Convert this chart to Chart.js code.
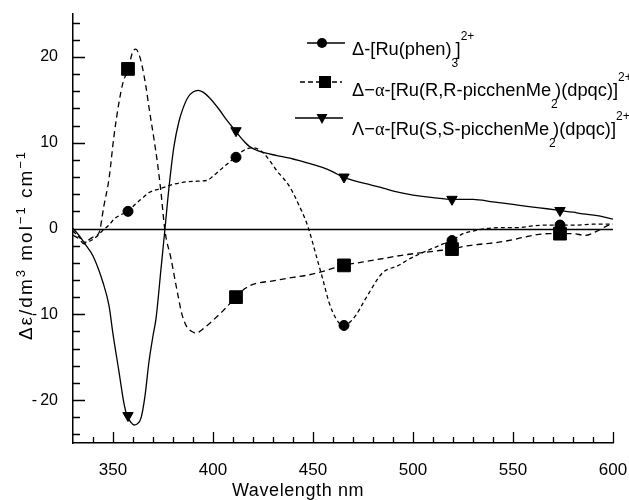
<!DOCTYPE html>
<html>
<head>
<meta charset="utf-8">
<script src="https://cdn.jsdelivr.net/npm/chart.js@4.4.1/dist/chart.umd.min.js"></script>
<style>
  html, body { margin: 0; padding: 0; background: #fff; }
</style>
</head>
<body>
<canvas id="cdChart" width="629" height="500"></canvas>
<script>
// axis ticks
var xTicks = [350, 400, 450, 500, 550, 600];
var yTicks = [-20, -10, 0, 10, 20];

// Δ-[Ru(phen)3]2+  (circles)
var phenNm = [330, 333, 336, 339, 342, 345, 348, 350.5, 354, 357.5, 361, 365, 368, 373, 378, 383, 390, 397, 400, 403, 407, 411,
  414, 417, 420, 423, 426, 429, 432, 435, 438, 441, 443, 445, 447.5, 450, 452, 455, 458, 461.5, 465, 468, 471.5, 475, 478.3,
  482, 485, 488, 492, 497, 503, 510, 515, 519.5, 525, 530, 537, 545, 552, 560, 567, 574, 582, 590, 600];
var phenDe = [-0.3, -1.0, -1.6, -1.4, -0.9, -0.2, 0.4, 1.1, 1.6, 2.0, 2.8, 3.6, 4.2, 4.6, 5.0, 5.3, 5.5, 5.6, 6.1, 6.7, 7.5, 8.3,
  8.9, 9.3, 9.4, 9.2, 8.6, 7.7, 6.7, 5.9, 5.0, 3.7, 2.7, 1.7, 0.2, -1.8, -3.5, -6.0, -8.6, -10.5, -11.3, -11.0, -10.1, -8.7, -7.4,
  -6.0, -5.1, -4.7, -4.4, -3.7, -3.0, -2.3, -1.8, -1.4, -0.6, -0.3, 0.0, 0.1, 0.1, 0.3, 0.4, 0.4, 0.4, 0.5, 0.5];

// Δ-α-[Ru(R,R-picchenMe2)(dpqc)]2+  (squares, dashed)
var rrNm = [330, 333, 335.5, 338, 340, 343, 345.5, 348, 350.5, 353, 355, 357.7, 359.7, 361.4, 363, 364.5, 366.5, 368, 370.5,
  372.2, 374, 376, 379, 381.5, 384.5, 387, 389.5, 391.5, 394.5, 400, 405, 411.5, 416, 420, 430, 440, 448, 455, 465, 475, 485,
  495, 505, 512, 519.5, 525, 535, 543, 552, 560, 568, 574, 580, 586, 592, 597, 600];
var rrDe = [-0.8, -1.2, -1.8, -1.3, -1.0, -0.5, 2.7, 5.8, 10.8, 14.7, 17.0, 18.6, 20.5, 20.9, 20.3, 19.0, 16.5, 14.1, 10.4,
  7.7, 4.2, -0.3, -3.5, -6.6, -10.0, -11.5, -12.0, -12.2, -11.8, -10.7, -9.6, -8.0, -7.0, -6.5, -6.1, -5.7, -5.4, -5.0, -4.3, -3.9, -3.5,
  -3.1, -2.8, -2.6, -2.4, -2.1, -1.8, -1.6, -1.2, -0.8, -0.6, -0.6, -0.6, -0.8, -0.3, 0.3, 0.5];

// Λ-α-[Ru(S,S-picchenMe2)(dpqc)]2+  (triangles, solid)
var ssNm = [330, 333, 336, 340, 345, 348, 350, 353, 355.5, 357, 359, 360.5, 362, 364, 366, 368, 370, 371.5, 374, 376, 378,
  380.5, 383, 385, 387.5, 390, 392.5, 395, 398, 403, 407, 411.5, 415, 418, 422, 426, 432, 440, 448, 455, 460, 465, 470, 477,
  485, 493, 500, 510, 520, 530, 540, 550, 560, 567, 573.5, 580, 585, 592, 600];
var ssDe = [0.0, -0.8, -1.8, -3.2, -6.3, -9.0, -12.3, -16.7, -20.4, -21.8, -22.6, -22.9, -22.8, -22.1, -19.5, -15.5, -12.5, -10.5,
  -4.7, 0.0, 4.8, 9.6, 12.5, 14.0, 15.3, 15.9, 16.1, 15.9, 15.3, 13.9, 12.6, 11.3, 10.3, 9.6, 9.1, 8.8, 8.5, 8.1, 7.6, 7.1, 6.6,
  6.0, 5.6, 5.2, 4.7, 4.2, 3.9, 3.6, 3.4, 3.4, 3.1, 2.8, 2.5, 2.3, 2.1, 1.9, 1.7, 1.5, 1.1];

// marker positions
var markNm = [357.5, 411.5, 465.5, 519.5, 573.5];
var phenMark = [2.0, 8.3, -11.3, -1.4, 0.4];
var rrMark = [18.6, -8.0, -4.3, -2.4, -0.6];
var ssMark = [-21.8, 11.4, 6.0, 3.4, 2.1];

var legendTexts = [
  [['Δ-[Ru(phen)', 'n'], ['3', 'sub'], [']', 'n'], ['2+', 'sup']],
  [['Δ−', 'n'], ['α', 'gr'], ['-[Ru(R,R-picchenMe', 'n'], ['2', 'sub'], [')(dpqc)]', 'n'], ['2+', 'sup']],
  [['Λ−', 'n'], ['α', 'gr'], ['-[Ru(S,S-picchenMe', 'n'], ['2', 'sub'], [')(dpqc)]', 'n'], ['2+', 'sup']]
];
var yTitle = [['Δε/dm', 'n'], ['3', 'exp'], [' mol', 'n'], ['−1', 'exp'], [' cm', 'n'], ['−1', 'exp']];
var xTitle = [['Wavelength nm', 'n']];

var SANS = '"Liberation Sans", Arial, sans-serif';
var SERIF = '"Liberation Serif", "Times New Roman", serif';

function pts(xs, ys) {
  return xs.map(function (x, i) { return { x: x, y: ys[i] }; });
}

function partFont(k, size) {
  var small = (k === 'sub' || k === 'sup' || k === 'exp');
  var fs = small ? Math.round(size * 0.68) : size;
  return fs + 'px ' + (k === 'gr' ? SERIF : SANS);
}

function partAdvance(ctx, p) {
  var w = ctx.measureText(p[0]).width;
  return p[1] === 'sub' ? w * 0.6 : w;
}

function richWidth(ctx, parts, size) {
  var w = 0;
  parts.forEach(function (p) {
    ctx.font = partFont(p[1], size);
    w += partAdvance(ctx, p);
  });
  return w;
}

function drawRich(ctx, parts, x, y, size) {
  ctx.textBaseline = 'alphabetic';
  ctx.textAlign = 'left';
  parts.forEach(function (p) {
    var k = p[1];
    ctx.font = partFont(k, size);
    var dy = 0;
    if (k === 'sub') dy = size * 0.65;
    if (k === 'sup') dy = -size * 0.8;
    if (k === 'exp') dy = -size * 0.36;
    ctx.fillText(p[0], x, y + dy);
    x += partAdvance(ctx, p);
  });
}

function marker(ctx, style, x, y) {
  ctx.beginPath();
  if (style === 'circle') {
    ctx.arc(x, y, 5, 0, Math.PI * 2);
  } else if (style === 'rect') {
    ctx.rect(x - 6, y - 6, 12, 12);
  } else {
    ctx.moveTo(x - 5.5, y - 4);
    ctx.lineTo(x + 5.5, y - 4);
    ctx.lineTo(x, y + 6);
    ctx.closePath();
  }
  ctx.fill();
}

function noEdgePadding(s) {
  s.paddingLeft = 0;
  s.paddingRight = 0;
  s.paddingTop = 0;
  s.paddingBottom = 0;
}

var frame = {
  id: 'frame',
  beforeDatasetsDraw: function (chart) {
    var ctx = chart.ctx, a = chart.chartArea;
    var xs = chart.scales.x, ys = chart.scales.y;
    ctx.save();
    ctx.strokeStyle = '#000';
    ctx.lineWidth = 1.3;
    ctx.beginPath();
    var y0 = Math.round(ys.getPixelForValue(0)) + 0.5;
    ctx.moveTo(a.left, y0);
    ctx.lineTo(a.right, y0);
    // inward ticks on x axis, every 10 nm
    for (var v = 340; v <= 600; v += 10) {
      var px = Math.round(xs.getPixelForValue(v)) + 0.5;
      ctx.moveTo(px, a.bottom);
      ctx.lineTo(px, a.bottom - (v % 50 === 0 ? 11 : 6));
    }
    // inward ticks on y axis, every 2 units
    for (var w = -24; w <= 24; w += 2) {
      var py = Math.round(ys.getPixelForValue(w)) + 0.5;
      ctx.moveTo(a.left, py);
      ctx.lineTo(a.left + (w % 10 === 0 ? 12 : 7), py);
    }
    ctx.stroke();
    ctx.restore();
  },
  afterDraw: function (chart) {
    var ctx = chart.ctx;
    ctx.save();
    ctx.fillStyle = '#000';
    ctx.strokeStyle = '#000';

    // axis titles
    ctx.letterSpacing = '0.6px';
    var tw = richWidth(ctx, xTitle, 18);
    drawRich(ctx, xTitle, 298 - tw / 2, 496, 18);
    ctx.save();
    ctx.letterSpacing = '2px';
    ctx.translate(32, 245);
    ctx.rotate(-Math.PI / 2);
    var yw = richWidth(ctx, yTitle, 19);
    drawRich(ctx, yTitle, -yw / 2, 0, 19);
    ctx.restore();
    ctx.letterSpacing = '0px';

    // legend
    var rows = [
      { y: 43, x0: 307, x1: 345, mx: 322, dash: [], style: 'circle', base: 55 },
      { y: 82, x0: 300, x1: 342, mx: 325, dash: [5, 3], style: 'rect', base: 96 },
      { y: 118, x0: 295, x1: 343, mx: 322, dash: [], style: 'triangle', base: 135 }
    ];
    rows.forEach(function (r, i) {
      ctx.lineWidth = 1.4;
      ctx.setLineDash(r.dash);
      ctx.beginPath();
      ctx.moveTo(r.x0, r.y);
      ctx.lineTo(r.x1, r.y);
      ctx.stroke();
      ctx.setLineDash([]);
      marker(ctx, r.style, r.mx, r.y);
      drawRich(ctx, legendTexts[i], 352, r.base, 18.3);
    });
    ctx.restore();
  }
};

Chart.defaults.font.family = SANS;
Chart.defaults.color = '#000';

new Chart(document.getElementById('cdChart'), {
  type: 'scatter',
  data: {
    datasets: [
      { data: pts(ssNm, ssDe), showLine: true, borderColor: '#000', borderWidth: 1.3, pointRadius: 0, cubicInterpolationMode: 'monotone' },
      { data: pts(rrNm, rrDe), showLine: true, borderColor: '#000', borderWidth: 1.3, borderDash: [6, 4], pointRadius: 0, cubicInterpolationMode: 'monotone' },
      { data: pts(phenNm, phenDe), showLine: true, borderColor: '#000', borderWidth: 1.3, borderDash: [4, 3], pointRadius: 0, cubicInterpolationMode: 'monotone' },
      { data: pts(markNm, phenMark), pointStyle: 'circle', pointRadius: 5, backgroundColor: '#000', borderColor: '#000' },
      { data: pts(markNm, rrMark), pointStyle: 'rect', pointRadius: 9, backgroundColor: '#000', borderColor: '#000' },
      { data: pts(markNm, ssMark), pointStyle: 'triangle', rotation: 180, pointRadius: 6, backgroundColor: '#000', borderColor: '#000' }
    ]
  },
  options: {
    responsive: false,
    devicePixelRatio: 1,
    animation: false,
    layout: { padding: { top: 14, right: 16, left: 0, bottom: 0 } },
    plugins: { legend: { display: false }, tooltip: { enabled: false } },
    scales: {
      x: {
        type: 'linear',
        min: 330,
        max: 600,
        afterBuildTicks: function (s) { s.ticks = xTicks.map(function (v) { return { value: v }; }); },
        afterFit: function (s) { s.height = 57; noEdgePadding(s); },
        grid: { display: false, drawTicks: false },
        border: { display: true, color: '#000', width: 1.5 },
        ticks: { padding: 17, font: { size: 17 }, color: '#000', maxRotation: 0 }
      },
      y: {
        min: -25,
        max: 25,
        afterBuildTicks: function (s) { s.ticks = yTicks.map(function (v) { return { value: v }; }); },
        afterFit: function (s) { s.width = 73; noEdgePadding(s); },
        grid: { display: false, drawTicks: false },
        border: { display: true, color: '#000', width: 1.5 },
        ticks: {
          padding: 15,
          font: { size: 16 },
          color: '#000',
          callback: function (v) { return v < 0 ? '-\u2009' + Math.abs(v) : String(v); }
        }
      }
    }
  },
  plugins: [frame]
});
</script>
</body>
</html>
